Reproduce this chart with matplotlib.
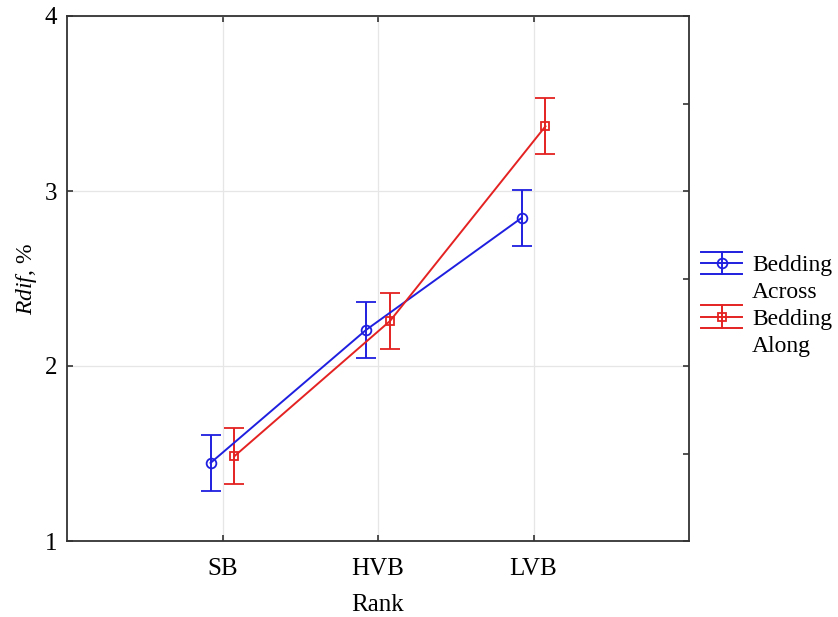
import numpy as np
import matplotlib
matplotlib.use("Agg")
import matplotlib.pyplot as plt
from matplotlib.legend_handler import HandlerBase
from matplotlib.lines import Line2D

categories = ["SB", "HVB", "LVB"]
across_mean = [1.446, 2.206, 2.846]
across_err = [0.16, 0.16, 0.16]
along_mean = [1.485, 2.257, 3.37]
along_err = [0.16, 0.16, 0.16]
series_labels = [["Bedding", "Across"], ["Bedding", "Along"]]
yticks = [1, 2, 3, 4]

plt.rcParams['font.family'] = ['Liberation Serif', 'DejaVu Serif']
plt.rcParams['mathtext.fontset'] = 'custom'
plt.rcParams['mathtext.it'] = 'Liberation Serif:italic'
plt.rcParams['mathtext.rm'] = 'Liberation Serif'

FS = 18

fig = plt.figure(figsize=(8.38, 6.17), dpi=100)
ax = fig.add_axes([67/838, 1-541/617, (689-67)/838, (541-16)/617])

x = np.arange(len(categories))
off = 0.077
blue = '#1f1fe0'
red = '#e42222'

ax.errorbar(x - off, across_mean, yerr=across_err, color=blue, lw=1.4,
            marker='o', ms=7, mfc='none', mec=blue, mew=1.3,
            capsize=7, capthick=1.4, elinewidth=1.4)
ax.errorbar(x + off, along_mean, yerr=along_err, color=red, lw=1.4,
            marker='s', ms=6, mfc='none', mec=red, mew=1.3,
            capsize=7, capthick=1.4, elinewidth=1.4)

ax.set_xlim(-1, 3)
ax.set_ylim(1, 4)
ax.set_xticks(x)
ax.set_xticklabels(categories)
ax.set_yticks(yticks)
ax.set_yticks([1.5, 2.5, 3.5], minor=True)
ax.grid(True, which='major', color='#e6e6e6', lw=0.9)
ax.set_axisbelow(True)

for s in ax.spines.values():
    s.set_linewidth(1.3)
    s.set_color('#333333')

ax.tick_params(axis='both', which='major', labelsize=FS, length=4, width=1.2,
               direction='in', top=True, right=True, color='#333333')
ax.tick_params(axis='x', which='major', pad=12)
ax.tick_params(axis='y', which='major', pad=7)
ax.tick_params(axis='y', which='minor', left=False, right=True, length=4,
               width=1.2, direction='in', color='#333333')

ax.set_xlabel("Rank", fontsize=FS, labelpad=10)
ax.set_ylabel(r"$\mathit{Rdif}$, %", fontsize=17, labelpad=4)


class ErrHandler(HandlerBase):
    def create_artists(self, legend, orig_handle, xdescent, ydescent,
                       width, height, fontsize, trans):
        c = orig_handle.get_color()
        m = orig_handle.get_marker()
        ms = orig_handle.get_markersize()
        yc = height / 2 - ydescent
        x0, x1 = -xdescent, -xdescent + width
        xm = (x0 + x1) / 2
        d = 0.47 * fontsize
        arts = []
        for yy in (yc - d, yc, yc + d):
            arts.append(Line2D([x0, x1], [yy, yy], color=c, lw=1.4, transform=trans))
        arts.append(Line2D([xm, xm], [yc - d, yc + d], color=c, lw=1.4, transform=trans))
        arts.append(Line2D([xm], [yc], marker=m, ms=ms, mfc='none', mec=c,
                           mew=1.3, ls='none', transform=trans))
        return arts


class BlankHandler(HandlerBase):
    def create_artists(self, legend, orig_handle, xdescent, ydescent,
                       width, height, fontsize, trans):
        ln = Line2D([0], [0], visible=False, transform=trans)
        return [ln]


h1 = Line2D([], [], color=blue, marker='o', ms=7)
h2 = Line2D([], [], color=red, marker='s', ms=6)
b1 = Line2D([], [])
b2 = Line2D([], [])
hm = ErrHandler()
bh = BlankHandler()
labels = series_labels[0] + series_labels[1]
leg = ax.legend(handles=[h1, b1, h2, b2], labels=labels, loc='upper left',
                bbox_to_anchor=(1.02, 0.545), frameon=False, fontsize=17,
                handlelength=1.7, labelspacing=0.22, handletextpad=0.45,
                borderaxespad=0.0, borderpad=0.0,
                handler_map={h1: hm, h2: hm, b1: bh, b2: bh})

fig.savefig("out.png", dpi=100)
